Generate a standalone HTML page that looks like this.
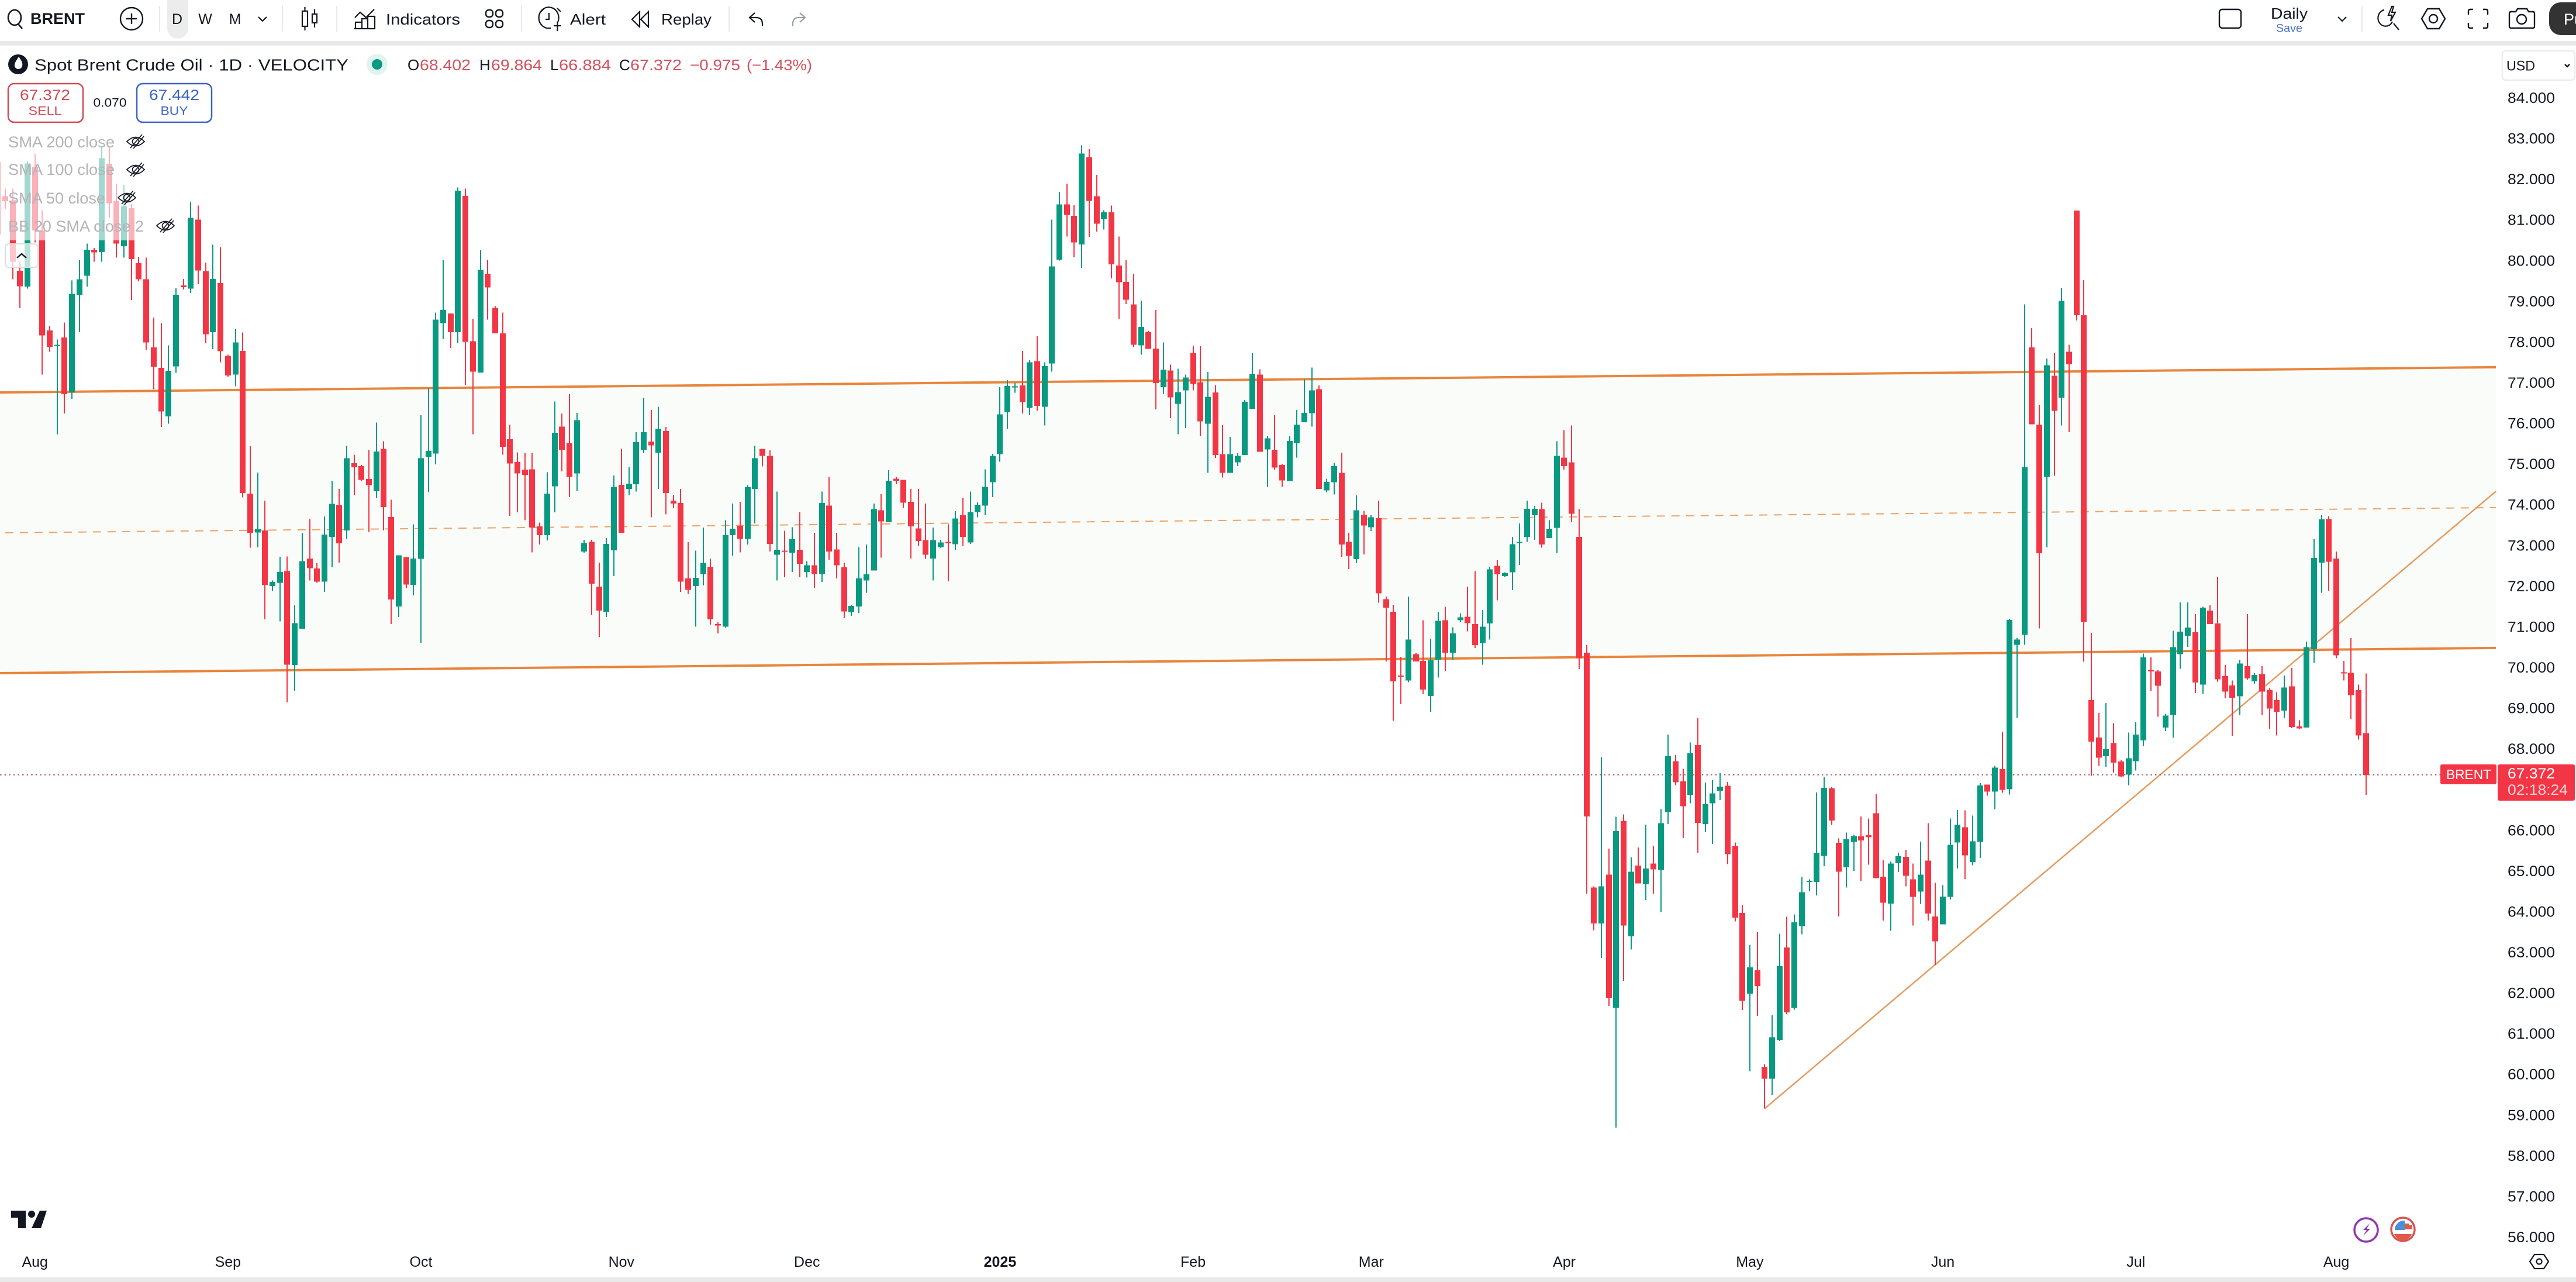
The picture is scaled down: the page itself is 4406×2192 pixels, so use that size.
<!DOCTYPE html>
<html lang="en">
<head>
<meta charset="utf-8">
<title>Spot Brent Crude Oil chart</title>
<style>
html,body{margin:0;padding:0;background:#fff;width:4406px;height:2192px;overflow:hidden}
svg{display:block}
text{font-family:"Liberation Sans",sans-serif;dominant-baseline:central}
</style>
</head>
<body>
<svg id="chart" xmlns="http://www.w3.org/2000/svg" width="4406" height="2192" viewBox="0 0 4406 2192">
  <rect x="0" y="0" width="4406" height="2192" fill="#ffffff"/>
  <g id="band-layer"></g>
  <g id="price-line-layer"></g>
  <g id="candle-layer"></g>

  <rect x="0" y="222" width="232" height="189" fill="#ffffff" fill-opacity="0.62"/>

  <!-- Toolbar -->
  <g>
    <rect x="0" y="70" width="4406" height="8" fill="#e9e9e9"/>
    <g fill="none" stroke="#131722" stroke-width="2.6"><ellipse cx="25" cy="30" rx="11" ry="13"/><path d="M31 41l7 8"/></g>
    <text x="52" y="32" font-size="27" font-weight="700" fill="#131722" textLength="93" lengthAdjust="spacingAndGlyphs">BRENT</text>
    <g fill="none" stroke="#131722" stroke-width="2.4"><circle cx="225" cy="32" r="19"/><path d="M225 23v18M216 32h18"/></g>
    <rect x="272" y="10" width="2" height="44" fill="#e9e9e9"/>
    <rect x="286" y="-14" width="36" height="80" rx="18" fill="#ececec"/>
    <text x="303" y="33" font-size="25" fill="#131722" text-anchor="middle">D</text>
    <text x="351" y="33" font-size="25" fill="#131722" text-anchor="middle">W</text>
    <text x="402" y="33" font-size="25" fill="#131722" text-anchor="middle">M</text>
    <path d="M442 29l7 7 7-7" fill="none" stroke="#131722" stroke-width="2.2"/>
    <rect x="482" y="10" width="2" height="44" fill="#e9e9e9"/>
    <g fill="none" stroke="#131722" stroke-width="2.2"><rect x="517" y="19" width="9" height="26"/><path d="M521.5 12v7M521.5 45v7"/><rect x="534" y="24" width="8" height="15"/><path d="M538 16v8M538 39v8"/></g>
    <rect x="575" y="10" width="2" height="44" fill="#e9e9e9"/>
    <g fill="none" stroke="#131722" stroke-width="2.2"><path d="M607 30l9-9 10 9 14-14"/><path d="M608 49V38h11v11M619 49V32h10v17M629 49V28h12v21M606 49h36"/></g>
    <text x="660" y="33" font-size="26" fill="#131722" textLength="127" lengthAdjust="spacingAndGlyphs">Indicators</text>
    <g fill="none" stroke="#131722" stroke-width="2.4"><rect x="831" y="17" width="12" height="12" rx="5"/><rect x="848" y="17" width="12" height="12" rx="5"/><rect x="831" y="35" width="12" height="12" rx="5"/><rect x="848" y="35" width="12" height="12" rx="5"/></g>
    <rect x="891" y="10" width="2" height="44" fill="#e9e9e9"/>
    <g fill="none" stroke="#131722" stroke-width="2.2"><path d="M942 48a17 18 0 1 1 12-10"/><path d="M939 22v11h-6M925 20l6-6M953 14l6 6M947 44h13M953.500 38v15"/></g>
    <text x="975" y="33" font-size="26" fill="#131722" textLength="61" lengthAdjust="spacingAndGlyphs">Alert</text>
    <g fill="none" stroke="#131722" stroke-width="2.2"><path d="M1094 20l-13 13 13 13zM1109 20l-13 13 13 13z"/></g>
    <text x="1131" y="33" font-size="26" fill="#131722" textLength="86" lengthAdjust="spacingAndGlyphs">Replay</text>
    <rect x="1246" y="10" width="2" height="44" fill="#e9e9e9"/>
    <path d="M1291 22l-9 8 9 8M1283 30h10q11 0 11 11v4" fill="none" stroke="#131722" stroke-width="2.2"/>
    <path d="M1368 22l9 8-9 8M1376 30h-10q-10 0-10 11v4" fill="none" stroke="#9a9ea6" stroke-width="2.2"/>

    <rect x="3796" y="16" width="37" height="32" rx="5" fill="none" stroke="#131722" stroke-width="2.4"/>
    <text x="3884" y="23" font-size="26" fill="#131722" textLength="63" lengthAdjust="spacingAndGlyphs">Daily</text>
    <text x="3893" y="49" font-size="19" fill="#4a72c8" textLength="45" lengthAdjust="spacingAndGlyphs">Save</text>
    <path d="M3999 29l7 7 7-7" fill="none" stroke="#131722" stroke-width="2.2"/>
    <rect x="4039" y="10" width="2" height="44" fill="#e9e9e9"/>
    <g fill="none" stroke="#131722" stroke-width="2.2"><path d="M4078 17a13 14 0 1 0 14 20"/><path d="M4091 11l-6 15h6l-2 10 8-15h-6l3-10zM4094 40l9 11"/></g>
    <g fill="none" stroke="#131722" stroke-width="2.4"><path d="M4152 15h20l10 17-10 17h-20l-10-17z"/><circle cx="4162" cy="32" r="7"/></g>
    <path d="M4222 25v-6q0-3 3-3h5M4247 16h5q3 0 3 3v6M4222 39v6q0 3 3 3h5M4247 48h5q3 0 3-3v-6" fill="none" stroke="#131722" stroke-width="2.4"/>
    <g fill="none" stroke="#131722" stroke-width="2.4"><path d="M4295 20h8l3-5h16l3 5h7q3 0 3 3v22q0 3-3 3h-37q-3 0-3-3V23q0-3 3-3z"/><circle cx="4313" cy="33" r="8"/></g>
    <rect x="4360" y="4" width="70" height="56" rx="20" fill="#333333"/>
    <text x="4385" y="33" font-size="27" fill="#ffffff">Publish</text>
  </g>

  <!-- Legend -->
  <g>
    <circle cx="31" cy="110" r="17" fill="#131722"/>
    <path d="M32 97c6 8 8 13 5 18-2 4-9 4-11 0-3-5 1-10 6-18z" fill="#ffffff"/>
    <text x="59" y="111" font-size="28" fill="#131722" textLength="537" lengthAdjust="spacingAndGlyphs">Spot Brent Crude Oil · 1D · VELOCITY</text>
    <circle cx="645" cy="110" r="18" fill="#e0f3ef"/>
    <circle cx="645" cy="110" r="9" fill="#089981"/>
    <text x="697" y="111" font-size="26" fill="#131722">O</text>
    <text x="718" y="111" font-size="26" fill="#d4505c" textLength="87" lengthAdjust="spacingAndGlyphs">68.402</text>
    <text x="820" y="111" font-size="26" fill="#131722">H</text>
    <text x="840" y="111" font-size="26" fill="#d4505c" textLength="87" lengthAdjust="spacingAndGlyphs">69.864</text>
    <text x="941" y="111" font-size="26" fill="#131722">L</text>
    <text x="956" y="111" font-size="26" fill="#d4505c" textLength="89" lengthAdjust="spacingAndGlyphs">66.884</text>
    <text x="1059" y="111" font-size="26" fill="#131722">C</text>
    <text x="1078" y="111" font-size="26" fill="#d4505c" textLength="88" lengthAdjust="spacingAndGlyphs">67.372</text>
    <text x="1180" y="111" font-size="26" fill="#d4505c" textLength="86" lengthAdjust="spacingAndGlyphs">−0.975</text>
    <text x="1277" y="111" font-size="26" fill="#d4505c" textLength="112" lengthAdjust="spacingAndGlyphs">(−1.43%)</text>

    <rect x="14" y="143" width="128" height="66" rx="10" fill="#ffffff" stroke="#d04a55" stroke-width="2.5"/>
    <text x="77" y="163" font-size="25" fill="#d04a55" text-anchor="middle" textLength="86" lengthAdjust="spacingAndGlyphs">67.372</text>
    <text x="77" y="190" font-size="21" fill="#d04a55" text-anchor="middle" textLength="57" lengthAdjust="spacingAndGlyphs">SELL</text>
    <text x="188" y="176" font-size="21" fill="#131722" text-anchor="middle" textLength="57" lengthAdjust="spacingAndGlyphs">0.070</text>
    <rect x="234" y="143" width="128" height="66" rx="10" fill="#ffffff" stroke="#3a62c8" stroke-width="2.5"/>
    <text x="298" y="163" font-size="25" fill="#3a62c8" text-anchor="middle" textLength="86" lengthAdjust="spacingAndGlyphs">67.442</text>
    <text x="298" y="190" font-size="21" fill="#3a62c8" text-anchor="middle" textLength="47" lengthAdjust="spacingAndGlyphs">BUY</text>

    <text x="14" y="243" font-size="27" fill="#b4b4b8" textLength="182" lengthAdjust="spacingAndGlyphs">SMA 200 close</text>
    <text x="14" y="290" font-size="27" fill="#b4b4b8" textLength="182" lengthAdjust="spacingAndGlyphs">SMA 100 close</text>
    <text x="14" y="339" font-size="27" fill="#b4b4b8" textLength="166" lengthAdjust="spacingAndGlyphs">SMA 50 close</text>
    <text x="14" y="387" font-size="27" fill="#b4b4b8" textLength="232" lengthAdjust="spacingAndGlyphs">BB 20 SMA close 2</text>

    <g fill="none" stroke="#131722" stroke-width="1.7" transform="translate(232,242)"><path d="M-15 0q15-15 30 0q-15 15-30 0z"/><circle r="5.500"/><path d="M-9 11L11-12M-4 12L14-9"/></g>
    <g fill="none" stroke="#131722" stroke-width="1.7" transform="translate(232,290)"><path d="M-15 0q15-15 30 0q-15 15-30 0z"/><circle r="5.500"/><path d="M-9 11L11-12M-4 12L14-9"/></g>
    <g fill="none" stroke="#131722" stroke-width="1.7" transform="translate(217,338)"><path d="M-15 0q15-15 30 0q-15 15-30 0z"/><circle r="5.500"/><path d="M-9 11L11-12M-4 12L14-9"/></g>
    <g fill="none" stroke="#131722" stroke-width="1.7" transform="translate(283,386)"><path d="M-15 0q15-15 30 0q-15 15-30 0z"/><circle r="5.500"/><path d="M-9 11L11-12M-4 12L14-9"/></g>

    <rect x="9" y="417" width="56" height="40" rx="6" fill="#ffffff" fill-opacity="0.72" stroke="#dddddd" stroke-width="2"/>
    <path d="M29 441l8-7 8 7" fill="none" stroke="#131722" stroke-width="2.4"/>
  </g>

  <!-- Right axis -->
  <rect x="4280" y="87" width="124" height="50" rx="6" fill="#ffffff" stroke="#ececec" stroke-width="2.5"/>
  <text x="4287" y="113" font-size="24" fill="#131722" textLength="49" lengthAdjust="spacingAndGlyphs">USD</text>
  <path d="M4387 110l4 4 4-4" fill="none" stroke="#131722" stroke-width="2.4"/>
  <g id="price-axis"></g>
  <g id="time-axis"></g>

  <!-- Price tags -->
  <g>
    <rect x="4174" y="1307" width="96" height="34" rx="3" fill="#f23645"/>
    <text x="4184" y="1324" font-size="23" fill="#ffffff" textLength="77" lengthAdjust="spacingAndGlyphs">BRENT</text>
    <rect x="4272" y="1307" width="132" height="62" rx="3" fill="#f23645"/>
    <text x="4289" y="1323" font-size="25" fill="#ffffff" textLength="81" lengthAdjust="spacingAndGlyphs">67.372</text>
    <text x="4289" y="1351" font-size="25" fill="#fbd4d8" textLength="103" lengthAdjust="spacingAndGlyphs">02:18:24</text>
  </g>

  <!-- Bottom items -->
  <g fill="#131722">
    <path d="M19 2070h25v30H31v-18H19z"/><circle cx="54" cy="2076" r="6"/><path d="M68 2070h12l-10 30H54z"/>
  </g>
  <g>
    <circle cx="4047" cy="2103" r="20" fill="#ffffff" stroke="#8e35b0" stroke-width="3.5"/>
    <path d="M4053 2092l-11 11h6l-6 10 12-12h-6z" fill="#8e35b0"/>
  </g>
  <g>
    <circle cx="4110" cy="2102" r="20" fill="#ffffff" stroke="#d9534f" stroke-width="3.5"/>
    <path d="M4096 2102h30a16 16 0 0 0-1-5h-29zM4095 2110h30a16 16 0 0 1-30 0z" fill="#e2574c"/>
    <path d="M4096 2103h17v-16a16 16 0 0 0-17 16z" fill="#4a90d9"/>
    <path d="M4113 2092h7v3h-7zM4113 2098h13v-3h-13z" fill="#e2574c"/>
  </g>
  <g fill="none" stroke="#131722" stroke-width="2.2">
    <path d="M4335 2145h16l8 12-8 12h-16l-8-12z"/><circle cx="4343" cy="2157" r="4.500"/>
  </g>
  <rect x="0" y="2184" width="4406" height="8" fill="#e9e9e9"/>
</svg>

<script>
// ---- chart data (prices in USD, daily bars) ----
const opens = [
82.43,81.59,81.49,79.76,79.37,82.31,80.75,78.29,77.92,78.12,
76.77,79.16,79.64,80.28,80.22,82.39,81.47,80.36,81.30,79.95,
79.55,77.88,77.37,76.18,77.41,79.40,79.32,81.02,79.75,78.25,
79.46,77.67,77.21,77.79,74.28,73.33,73.38,72.01,72.09,72.38,
70.07,70.96,72.69,72.44,72.12,73.22,74.00,73.38,75.03,74.96,
74.64,74.34,75.38,73.71,71.51,72.72,72.04,72.68,75.19,75.27,
78.47,78.71,78.25,81.60,78.03,77.26,79.69,78.85,78.22,75.62,
75.06,74.87,74.88,73.48,73.26,74.46,75.93,75.53,74.78,72.86,
73.10,72.00,71.38,72.89,74.50,74.40,74.51,75.36,75.56,75.29,
75.82,74.11,74.05,72.20,72.01,72.30,72.49,71.08,71.01,73.26,
73.49,73.17,74.40,75.38,75.21,72.78,72.88,72.83,72.90,72.36,
72.52,72.31,73.99,72.91,72.47,71.37,71.51,72.15,72.39,73.87,
73.58,74.65,74.62,74.08,73.43,73.14,72.69,72.97,73.10,73.04,
73.75,73.08,73.83,73.99,74.56,75.25,76.29,76.89,76.94,76.39,
77.54,76.42,77.48,80.03,81.39,81.11,80.41,82.55,81.59,81.03,
81.20,79.89,79.49,78.93,77.93,78.26,77.85,76.90,77.31,76.49,
76.82,77.74,77.02,76.00,76.77,75.25,74.79,75.05,75.23,76.37,
77.21,75.37,75.36,74.99,74.59,75.52,76.04,76.26,76.85,74.36,
74.56,74.79,73.10,72.67,73.76,73.46,73.68,71.69,71.38,69.81,
69.69,70.34,70.17,69.31,70.20,71.17,70.37,71.17,71.26,71.08,
70.61,71.09,72.51,72.26,72.35,73.07,73.22,73.75,73.90,73.19,
73.44,75.17,75.05,73.22,70.37,64.60,63.72,64.92,61.65,66.24,
63.40,65.14,64.68,65.19,65.03,66.46,67.71,67.21,66.88,68.10,
66.16,66.67,66.98,67.10,65.62,63.98,61.99,62.57,60.20,59.90,
60.86,63.13,61.64,63.65,64.74,64.74,65.38,67.04,65.70,65.10,
65.72,65.86,65.89,66.43,64.87,64.21,65.20,65.36,64.80,64.50,
65.26,63.89,63.70,64.37,65.71,66.08,65.23,65.72,67.13,66.96,
67.51,67.02,70.57,70.81,77.88,75.98,74.69,77.18,76.64,77.77,
81.24,78.67,69.21,68.29,67.83,68.15,67.70,67.38,67.71,68.22,
69.95,69.91,68.53,68.84,70.34,70.79,70.88,69.59,71.41,71.09,
69.80,69.57,69.30,70.04,69.67,69.85,69.46,69.21,68.95,69.55,
68.56,68.53,70.46,72.59,73.66,72.69,69.89,69.88,69.45,68.40
];
const highs = [
82.43,81.78,81.78,79.98,82.45,82.63,81.25,78.41,78.07,78.49,
79.52,80.02,80.43,80.32,82.82,82.82,81.90,81.87,81.40,80.10,
80.08,78.61,78.47,77.93,79.33,79.56,81.45,81.36,79.96,80.40,
80.34,77.70,78.33,78.24,75.45,74.80,74.11,72.15,72.73,72.74,
71.54,73.31,73.66,72.57,73.72,74.59,74.40,75.46,75.24,74.99,
75.36,76.03,75.57,74.13,72.77,72.72,73.53,76.21,76.88,78.73,
80.02,78.71,81.81,81.78,78.58,80.27,80.03,78.89,78.73,75.98,
75.30,75.28,75.28,73.57,74.81,76.55,76.25,76.73,76.27,73.15,
73.15,72.59,73.19,74.73,75.39,74.93,75.79,76.64,76.34,76.42,
75.92,74.25,74.40,73.09,72.88,73.45,72.69,71.12,73.63,74.04,
74.08,74.49,75.46,75.38,75.35,74.33,73.37,73.46,73.83,72.62,
73.32,74.33,74.69,73.32,72.59,71.54,72.97,73.03,74.04,74.27,
74.86,74.69,74.62,74.40,74.40,74.04,73.45,73.15,73.53,73.85,
74.18,74.33,74.07,74.88,75.26,76.90,77.07,77.00,77.79,77.57,
78.15,77.51,81.02,81.69,81.90,81.37,82.84,82.75,82.12,81.25,
81.36,80.60,80.02,79.69,79.02,78.28,78.80,78.00,77.45,77.35,
77.21,77.91,77.91,77.27,76.95,75.97,75.68,75.28,76.58,77.75,
77.34,75.69,76.22,75.01,75.69,76.34,77.09,77.38,76.94,74.65,
75.04,75.29,73.32,74.24,73.86,73.75,74.11,71.75,71.55,70.27,
71.75,70.37,71.17,70.72,71.37,71.50,71.00,71.34,72.00,72.38,
71.42,72.49,72.65,72.35,73.22,73.55,74.11,73.98,74.06,73.63,
75.57,75.84,75.96,73.90,70.56,64.63,67.81,65.56,66.34,66.40,
65.34,65.59,66.15,65.63,66.53,68.36,67.86,67.52,68.17,68.76,
67.18,67.24,67.42,67.20,65.71,64.17,63.19,63.50,60.26,61.46,
63.47,63.88,63.94,64.86,64.80,66.94,67.32,67.07,65.81,65.95,
65.90,66.35,66.30,66.90,65.27,65.24,65.46,65.53,65.19,65.73,
66.18,64.72,64.66,66.30,66.51,66.50,66.37,67.17,67.13,67.59,
68.43,71.20,70.73,78.93,78.35,76.47,77.60,77.75,79.33,77.94,
81.24,79.53,70.86,68.89,69.14,68.64,67.73,68.41,68.66,70.35,
70.26,69.95,68.87,70.91,71.61,71.61,71.32,71.50,71.54,72.24,
70.07,69.69,70.20,71.32,69.87,70.04,69.50,69.40,69.81,70.00,
68.71,70.65,73.16,73.76,73.73,72.86,70.17,70.73,69.59,69.86
];
const lows = [
80.65,81.28,79.55,78.84,79.32,80.46,77.21,77.77,75.74,76.25,
76.61,78.25,79.37,79.98,79.98,81.06,80.08,80.08,79.04,79.50,
77.81,76.85,75.92,76.00,77.25,79.30,79.21,79.43,77.98,77.83,
77.51,77.16,76.92,74.19,72.95,72.97,71.19,71.89,71.14,69.15,
69.44,70.96,72.15,72.09,71.87,72.47,72.59,73.17,74.25,74.59,
73.34,74.18,73.38,71.08,71.25,71.96,71.78,70.62,74.32,75.00,
78.08,77.86,77.98,76.95,75.74,77.26,78.56,78.22,75.24,73.74,
73.82,73.63,72.84,73.03,73.13,73.82,74.83,74.20,74.35,72.83,
71.30,70.76,71.25,72.26,73.32,74.25,74.33,75.28,73.70,74.40,
73.77,73.93,71.87,71.82,71.01,72.03,71.06,70.85,70.99,72.76,
72.84,73.03,73.55,74.95,72.86,72.15,72.23,72.36,72.23,72.22,
71.96,72.11,72.66,72.20,71.22,71.28,71.35,71.85,72.39,72.71,
73.58,74.51,73.93,72.69,73.00,72.68,72.15,72.95,72.13,72.90,
73.00,73.05,73.70,73.75,74.20,75.07,75.88,76.76,76.25,76.21,
76.32,75.96,77.28,80.01,80.60,80.09,79.83,80.59,80.72,80.77,
79.57,78.58,78.94,77.89,77.70,77.84,76.35,76.73,76.14,75.74,
75.89,76.82,75.69,74.79,75.16,74.68,74.79,74.96,75.23,76.37,
75.31,74.45,74.87,74.45,74.59,75.17,76.04,75.93,74.40,74.31,
74.26,72.73,72.43,72.58,72.79,73.36,71.60,70.16,68.70,69.11,
69.65,70.16,69.36,68.92,69.76,69.93,70.20,71.13,70.90,70.49,
70.08,70.70,71.66,72.23,71.91,72.53,73.10,73.15,72.95,73.19,
72.82,74.87,73.58,69.97,64.45,63.55,62.87,61.69,58.70,62.31,
63.08,64.70,64.29,64.45,64.00,66.16,67.12,65.82,66.67,65.46,
65.96,65.67,66.75,65.18,63.77,61.59,60.09,61.45,59.17,59.51,
60.83,61.49,61.60,63.45,64.51,64.41,65.13,66.14,63.89,64.60,
65.01,64.76,65.16,64.83,63.79,63.54,64.98,64.63,63.67,64.20,
63.79,62.70,63.70,64.31,65.07,64.81,65.15,65.33,66.86,66.53,
66.93,66.89,68.77,70.57,75.99,70.97,72.96,74.72,75.96,75.79,
78.54,70.15,67.35,67.59,67.57,67.43,67.31,67.12,67.48,68.08,
69.43,68.80,68.45,68.28,69.98,70.52,69.38,69.36,71.08,69.66,
69.25,68.33,68.84,69.71,69.61,68.84,68.50,68.34,68.77,68.52,
68.50,68.53,70.12,71.85,71.90,70.24,69.69,68.74,68.24,66.88
];
const closes = [
80.65,81.47,79.98,79.38,82.40,80.75,78.17,77.89,77.94,76.73,
79.19,79.55,80.28,80.21,82.53,81.42,80.43,81.35,80.05,79.55,
78.00,77.40,76.30,77.30,79.17,79.36,81.06,79.77,78.20,79.56,
77.78,77.19,78.00,74.30,73.32,73.41,72.04,72.11,72.36,70.08,
71.10,72.62,72.45,72.12,73.28,74.03,73.06,75.15,74.93,74.62,
74.49,75.32,73.95,71.68,72.77,72.05,72.69,75.15,75.33,78.56,
78.80,78.25,81.73,78.01,77.28,79.78,79.35,78.22,75.43,75.02,
74.78,74.74,73.45,73.26,74.28,75.78,75.36,74.69,76.09,73.07,
72.07,71.41,73.05,74.45,73.32,74.53,75.55,75.79,75.47,75.88,
74.30,74.04,72.12,71.92,72.21,72.58,71.19,71.04,73.26,73.42,
73.17,74.44,75.15,75.21,73.05,72.90,72.86,73.17,72.56,72.52,
72.31,74.05,72.86,72.52,71.39,71.52,72.20,72.30,73.90,73.60,
74.60,74.60,74.06,73.48,73.12,72.78,73.14,73.08,73.06,73.67,
73.22,73.83,74.01,74.45,75.21,76.23,76.93,76.92,76.53,77.51,
76.44,77.42,79.87,81.39,81.13,80.46,82.64,81.48,80.92,81.20,
79.92,79.48,79.05,77.94,78.38,77.84,77.00,77.33,76.65,76.78,
77.14,76.98,76.06,76.66,75.23,74.79,75.25,75.21,76.54,77.22,
75.31,75.64,74.92,74.61,75.58,75.98,76.27,76.82,74.40,74.57,
74.96,73.03,72.75,73.87,73.50,73.70,71.83,71.48,69.67,69.79,
70.70,70.16,69.47,70.19,71.16,70.37,70.85,71.24,71.10,70.56,
71.01,72.42,72.30,72.33,73.04,73.10,73.91,73.91,73.03,73.42,
75.21,74.96,73.79,70.24,66.35,63.72,64.63,61.89,65.99,63.67,
64.99,64.70,65.07,65.05,66.18,67.83,67.19,66.60,67.90,66.19,
66.65,66.92,67.08,65.42,63.86,61.82,62.64,62.18,59.90,60.92,
62.67,61.53,63.75,64.49,64.77,65.46,67.05,66.25,64.99,65.79,
65.87,65.76,65.84,64.83,64.23,65.19,65.37,64.89,64.37,64.92,
63.96,63.28,64.38,65.65,66.15,65.39,65.74,67.11,66.96,67.55,
67.00,71.18,70.70,74.93,75.99,72.82,77.44,76.32,79.02,77.47,
78.67,71.13,68.19,67.79,68.00,67.67,67.33,67.78,68.36,70.26,
69.91,69.56,68.83,70.51,70.89,70.99,69.64,71.48,71.08,69.72,
69.42,69.27,70.11,69.74,69.83,69.42,69.00,68.92,69.52,68.55,
68.51,70.51,72.70,73.65,72.61,70.31,69.86,69.33,68.34,67.37
];
const priceTicks = ["84.000","83.000","82.000","81.000","80.000","79.000","78.000","77.000","76.000","75.000","74.000","73.000","72.000","71.000","70.000","69.000","68.000","66.000","65.000","64.000","63.000","62.000","61.000","60.000","59.000","58.000","57.000","56.000"];
const monthLabels = ["Aug","Sep","Oct","Nov","Dec","2025","Feb","Mar","Apr","May","Jun","Jul","Aug"];
const monthBars = [5,31,57,84,109,135,161,185,211,236,262,288,315];
const channelBars = [0.3,336.5];
const channelUpper = [76.77,77.39];
const channelLower = [69.87,70.49];
const channelMidBars = [1,336.5];
const channelMid = [73.32,73.94];
const trendBars = [238,336.5];
const trendPrices = [59.17,74.34];
const lastPrice = 67.372;

// ---- axis functions ----
function xOf(bar){ return -3.8 + 12.698 * bar; }
function yOf(price){ return 168 + (84 - price) * 69.57; }

const NS = 'http://www.w3.org/2000/svg';
const UP = '#089981';
const DOWN = '#f23645';
const ORANGE = '#e8853c';

function make(tag, attrs, parent){
  const el = document.createElementNS(NS, tag);
  for (const k in attrs) el.setAttribute(k, attrs[k]);
  parent.appendChild(el);
  return el;
}

// channel & trend line
const bandLayer = document.getElementById('band-layer');
const bandFill = make('polygon', {
  points: xOf(channelBars[0])+','+yOf(channelUpper[0])+' '+xOf(channelBars[1])+','+yOf(channelUpper[1])+' '+xOf(channelBars[1])+','+yOf(channelLower[1])+' '+xOf(channelBars[0])+','+yOf(channelLower[0]),
  fill: '#fafcfa'
}, bandLayer);



const upperLine = make('line', {x1:xOf(channelBars[0]),y1:yOf(channelUpper[0]),x2:xOf(channelBars[1]),y2:yOf(channelUpper[1]),stroke:ORANGE,'stroke-width':4}, bandLayer);



const lowerLine = make('line', {x1:xOf(channelBars[0]),y1:yOf(channelLower[0]),x2:xOf(channelBars[1]),y2:yOf(channelLower[1]),stroke:ORANGE,'stroke-width':4}, bandLayer);



const midLine = make('line', {x1:xOf(channelMidBars[0]),y1:yOf(channelMid[0]),x2:xOf(channelMidBars[1]),y2:yOf(channelMid[1]),stroke:'#eda267','stroke-width':2,'stroke-dasharray':'14 11'}, bandLayer);



const trendLine = make('line', {x1:xOf(trendBars[0]),y1:yOf(trendPrices[0]),x2:xOf(trendBars[1]),y2:yOf(trendPrices[1]),stroke:'#e59a5c','stroke-width':2.5}, bandLayer);



// last price line
const lineLayer = document.getElementById('price-line-layer');
const priceLine = make('line', {x1:0,y1:yOf(lastPrice),x2:4174,y2:yOf(lastPrice),stroke:'#a0606a','stroke-width':2,'stroke-dasharray':'2.500 5.100'}, lineLayer);



// candles
const candleLayer = document.getElementById('candle-layer');
opens.forEach(function(open, i){
  const close = closes[i];
  const color = close >= open ? UP : DOWN;
  const cx = Math.round(xOf(i));
  const wick = make('rect', {x:cx-1,y:yOf(highs[i]),width:2,height:Math.max(1,yOf(lows[i])-yOf(highs[i])),fill:color,'shape-rendering':'crispEdges'}, candleLayer);
  
  
  const top = yOf(Math.max(open, close));
  const body = make('rect', {x:cx-5,y:top,width:10,height:Math.max(2,yOf(Math.min(open, close))-top),fill:color,'shape-rendering':'crispEdges'}, candleLayer);
  
  
});

// price axis
const priceAxis = document.getElementById('price-axis');
priceTicks.forEach(function(label){
  const t = make('text', {x:4289,y:yOf(parseFloat(label)),'font-size':25,fill:'#131722',textLength:81,lengthAdjust:'spacingAndGlyphs'}, priceAxis);
  t.textContent = label;
  
  
});

// time axis
const timeAxis = document.getElementById('time-axis');
monthLabels.forEach(function(label, i){
  const t = make('text', {x:xOf(monthBars[i]),y:2158,'font-size':25,fill:'#131722','text-anchor':'middle','font-weight':label==='2025'?'700':'400'}, timeAxis);
  t.textContent = label;
  
  
});
</script>
</body>
</html>
